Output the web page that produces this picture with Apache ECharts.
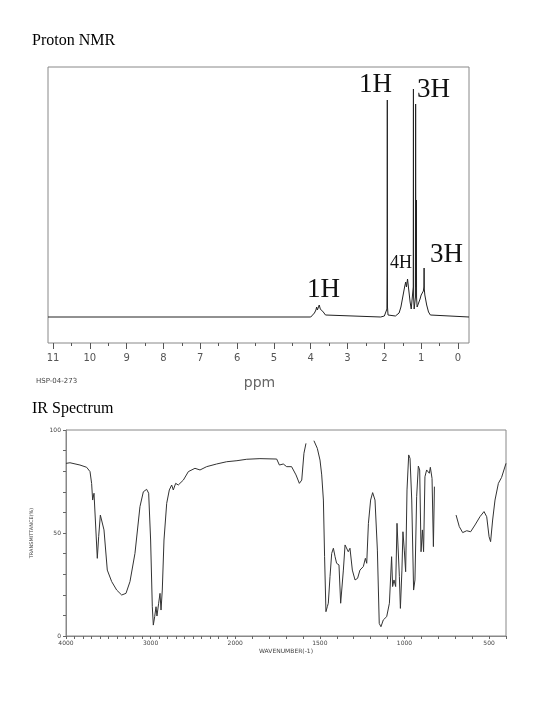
<!DOCTYPE html>
<html>
<head>
<meta charset="utf-8">
<script src="https://cdn.jsdelivr.net/npm/echarts@6/dist/echarts.min.js"></script>
<style>
html,body{margin:0;padding:0;background:#fff;}
#c{width:560px;height:725px;}
</style>
</head>
<body>
<div id="c"></div>
<script>
// ---------- Proton NMR data (ppm, relative intensity) ----------
const nmrPpm = [11.14, 4.0, 3.95, 3.9, 3.86, 3.84, 3.82, 3.8, 3.77, 3.74, 3.72, 3.70, 3.66, 3.6, 3.55,
  2.1, 2.0, 1.95, 1.93, 1.925, 1.92, 1.915, 1.9, 1.85, 1.7, 1.6, 1.55, 1.5, 1.45, 1.42, 1.40, 1.37, 1.34,
  1.3, 1.27, 1.24, 1.215, 1.21, 1.205, 1.19, 1.17, 1.155, 1.15, 1.145, 1.135, 1.13, 1.125, 1.11, 1.09,
  1.06, 1.03, 1.0, 0.97, 0.94, 0.925, 0.92, 0.915, 0.9, 0.85, 0.8, 0.75, 0.7, -0.3];
const nmrIntensity = [0, 0, 1, 4, 7, 10, 7, 9, 12, 8, 10, 9, 5, 2, 0,
  0, 1, 3, 8, 50, 217, 10, 2, 0, 1, 4, 10, 20, 30, 35, 30, 38, 28,
  15, 8, 8, 30, 228, 20, 8, 6, 20, 213, 30, 40, 117, 20, 10, 8,
  10, 18, 22, 24, 26, 30, 49, 28, 22, 12, 5, 2, 0, 0];
const nmrTickLabels = [11, 10, 9, 8, 7, 6, 5, 4, 3, 2, 1, 0];

// ---------- IR data (wavenumber cm-1, transmittance %) ----------
const irWavenumber = [4000, 3953, 3835, 3756, 3716, 3697, 3685, 3669, 3653, 3630, 3614, 3594, 3575, 3551,
  3512, 3460, 3401, 3342, 3291, 3244, 3185, 3126, 3086, 3047, 3023, 3000, 2980, 2968, 2952, 2936, 2925,
  2905, 2889, 2877, 2862, 2842, 2810, 2779, 2751, 2732, 2704, 2673, 2613, 2554, 2476, 2416, 2338, 2220,
  2101, 1990, 1932, 1854, 1755, 1739, 1716, 1696, 1667, 1641, 1621, 1607, 1594, 1582, 1560, 1535, 1515,
  1499, 1489, 1479, 1472, 1464, 1456, 1450, 1440, 1430, 1420, 1410, 1401, 1387, 1377, 1369, 1361, 1351,
  1342, 1332, 1322, 1308, 1292, 1277, 1263, 1243, 1231, 1223, 1213, 1200, 1188, 1174, 1160, 1149, 1139,
  1125, 1105, 1089, 1076, 1070, 1062, 1052, 1044, 1038, 1030, 1024, 1015, 1009, 1001, 993, 985, 975, 967,
  957, 946, 938, 928, 918, 910, 902, 894, 887, 879, 869, 859, 853, 847, 837, 829, 823, 760, 695, 676, 656,
  632, 609, 583, 554, 530, 514, 500, 491, 479, 465, 445, 426, 400];
const irTransmittance = [83.8, 84.1, 83, 81.9, 79.8, 74, 66, 69.3, 68.4, 37.7, 48.2, 58.7, 59.2, 51.5,
  32, 26.4, 22.3, 19.9, 20.7, 26.4, 40.1, 62.8, 70, 71.2, 69.3, 46.6, 14.2, 5.3, 9.4, 14.2, 9.7,
  15.9, 20.7, 12.6, 22.3, 46.6, 64.4, 70.9, 73.3, 70.9, 74.1, 73.3, 75.7, 79.8, 81.4, 80.6, 82.2, 83.5,
  84.6, 85.1, 85.8, 86.1, 85.9, 83, 83.5, 82.2, 82.2, 78.2, 74.1, 75.7, 88.7, 93.5, null, 94.8, 91.1,
  85.4, 78.2, 66, 38.5, 11.8, 14.2, 15.9, 28.8, 40.1, 42.6, 38.5, 35.3, 34.5, 15.9, 15, 32, 44.2,
  43.4, 40.9, 42.6, 32, 27.2, 28, 32, 33.7, 37.7, 35.3, 54.7, 66, 69.6, 66, 41.7, 6.1, 4.5,
  7.8, 9.4, 15.9, 38.5, 24, 27.2, 24, 54.7, 55.5, 28.8, 13.4, 32, 50.6, 41.7, 31.2, 70.9, 87.9, 86.2,
  66, 22.3, 27.2, 67.6, 82.5, 80.6, 40.9, 51.5, 40.9, 77.3, 80.6, 81.4, 79, 81.9, 76.5, 43.4, 72.5, null, 58.7, 53.1, 50.2,
  51.1, 50.6, 53.9, 57.9, 60.4, 57.9, 48.2, 45.8, 56.3, 66, 74.1, 77, 83.8];
const irTickLabels = [4000, 3000, 2000, 1500, 1000, 500];
const irYTickLabels = [0, 50, 100];

// IR axis: 4000-2000 compressed to half scale, 2000-400 full scale
function irAxisPos(w) { return w >= 2000 ? (4000 - w) / 2 : 1000 + (2000 - w); }
const irMinorTicks = [];
for (let w = 4000; w >= 400; w -= 100) irMinorTicks.push(irAxisPos(w));

const nmrData = nmrPpm.map((p, i) => [p, nmrIntensity[i]]);
const irData = irWavenumber.map((w, i) => [irAxisPos(w), irTransmittance[i] == null ? '-' : irTransmittance[i]]);

const serif = '"Liberation Serif","Times New Roman",serif';
const sans = '"DejaVu Sans",sans-serif';

const chart = echarts.init(document.getElementById('c'), null, {renderer: 'canvas'});
chart.setOption({
  animation: false,
  backgroundColor: '#fff',
  grid: [
    {left: 48, right: 91, top: 67, bottom: 382, show: true, borderColor: '#888', borderWidth: 1, backgroundColor: 'transparent'},
    {left: 66, right: 54, top: 430, bottom: 89, show: true, borderColor: '#888', borderWidth: 1, backgroundColor: 'transparent'},
    // ppm scale strip: spans exactly 11 -> 0 ppm below the NMR frame
    {left: 53, right: 102, top: 342, height: 1, show: false}
  ],
  xAxis: [
    {
      gridIndex: 0, type: 'value', min: -0.3, max: 11.14, inverse: true, show: false
    },
    {
      gridIndex: 1, type: 'value', min: 0, max: 2600,
      splitLine: {show: false},
      axisLine: {show: true, onZero: false, lineStyle: {color: '#888'}},
      axisTick: {show: true, inside: false, length: 3, lineStyle: {color: '#666'}, customValues: irMinorTicks},
      axisLabel: {
        show: true, customValues: irTickLabels.map(irAxisPos), color: '#444', fontSize: 6, fontFamily: sans, margin: 4,
        formatter: function (v) {
          for (const w of irTickLabels) if (Math.abs(irAxisPos(w) - v) < 1e-6) return String(w);
          return '';
        }
      },
      name: 'WAVENUMBER(-1)', nameLocation: 'middle', nameGap: 12,
      nameTextStyle: {color: '#444', fontSize: 6, fontFamily: sans}
    },
    {
      gridIndex: 2, type: 'value', min: nmrTickLabels[nmrTickLabels.length - 1], max: nmrTickLabels[0],
      interval: 1, inverse: true,
      splitLine: {show: false},
      axisLine: {show: false, onZero: false},
      axisTick: {show: true, inside: false, length: 6, lineStyle: {color: '#555', width: 1}},
      minorTick: {show: true, splitNumber: 2, length: 3, lineStyle: {color: '#555', width: 1}},
      axisLabel: {show: true, color: '#555', fontSize: 10, fontFamily: sans, margin: 10},
      name: 'ppm', nameLocation: 'middle', nameGap: 33,
      nameTextStyle: {color: '#666', fontSize: 14, fontFamily: sans, padding: [0, 0, 0, 8]}
    }
  ],
  yAxis: [
    {
      gridIndex: 0, type: 'value', min: -26, max: 250, show: false, splitLine: {show: false}
    },
    {
      gridIndex: 1, type: 'value', min: 0, max: 100, interval: 10,
      splitLine: {show: false},
      axisLine: {show: true, lineStyle: {color: '#888'}},
      axisTick: {show: true, inside: false, length: 3, lineStyle: {color: '#666'}},
      axisLabel: {
        show: true, color: '#444', fontSize: 6, fontFamily: sans, margin: 5,
        formatter: function (v) { return irYTickLabels.indexOf(v) >= 0 ? String(v) : ''; }
      },
      name: 'TRANSMITTANCE(%)', nameLocation: 'middle', nameRotate: 90, nameGap: 32,
      nameTextStyle: {color: '#444', fontSize: 5, fontFamily: sans}
    },
    {
      gridIndex: 2, type: 'value', min: 0, max: 1, show: false
    }
  ],
  series: [
    {
      type: 'line', xAxisIndex: 0, yAxisIndex: 0, data: nmrData, showSymbol: false, symbol: 'none',
      lineStyle: {color: '#222', width: 1}, silent: true, clip: true
    },
    {
      type: 'line', xAxisIndex: 1, yAxisIndex: 1, data: irData, showSymbol: false, symbol: 'none',
      connectNulls: false, lineStyle: {color: '#333', width: 1}, silent: true, clip: true
    }
  ],
  graphic: [
    {type: 'text', left: 32, top: 33, style: {text: 'Proton NMR', font: '16px ' + serif, fill: '#000'}},
    {type: 'text', left: 32, top: 401, style: {text: 'IR Spectrum', font: '16px ' + serif, fill: '#000'}},
    {type: 'text', left: 36, top: 378, style: {text: 'HSP-04-273', font: '7px ' + sans, fill: '#444'}},
    {type: 'text', left: 359, top: 71, style: {text: '1H', font: '27px ' + serif, fill: '#111'}},
    {type: 'text', left: 417, top: 76, style: {text: '3H', font: '27px ' + serif, fill: '#111'}},
    {type: 'text', left: 390, top: 254, style: {text: '4H', font: '18px ' + serif, fill: '#111'}},
    {type: 'text', left: 430, top: 241, style: {text: '3H', font: '27px ' + serif, fill: '#111'}},
    {type: 'text', left: 307, top: 276, style: {text: '1H', font: '27px ' + serif, fill: '#111'}}
  ]
});
</script>
</body>
</html>
